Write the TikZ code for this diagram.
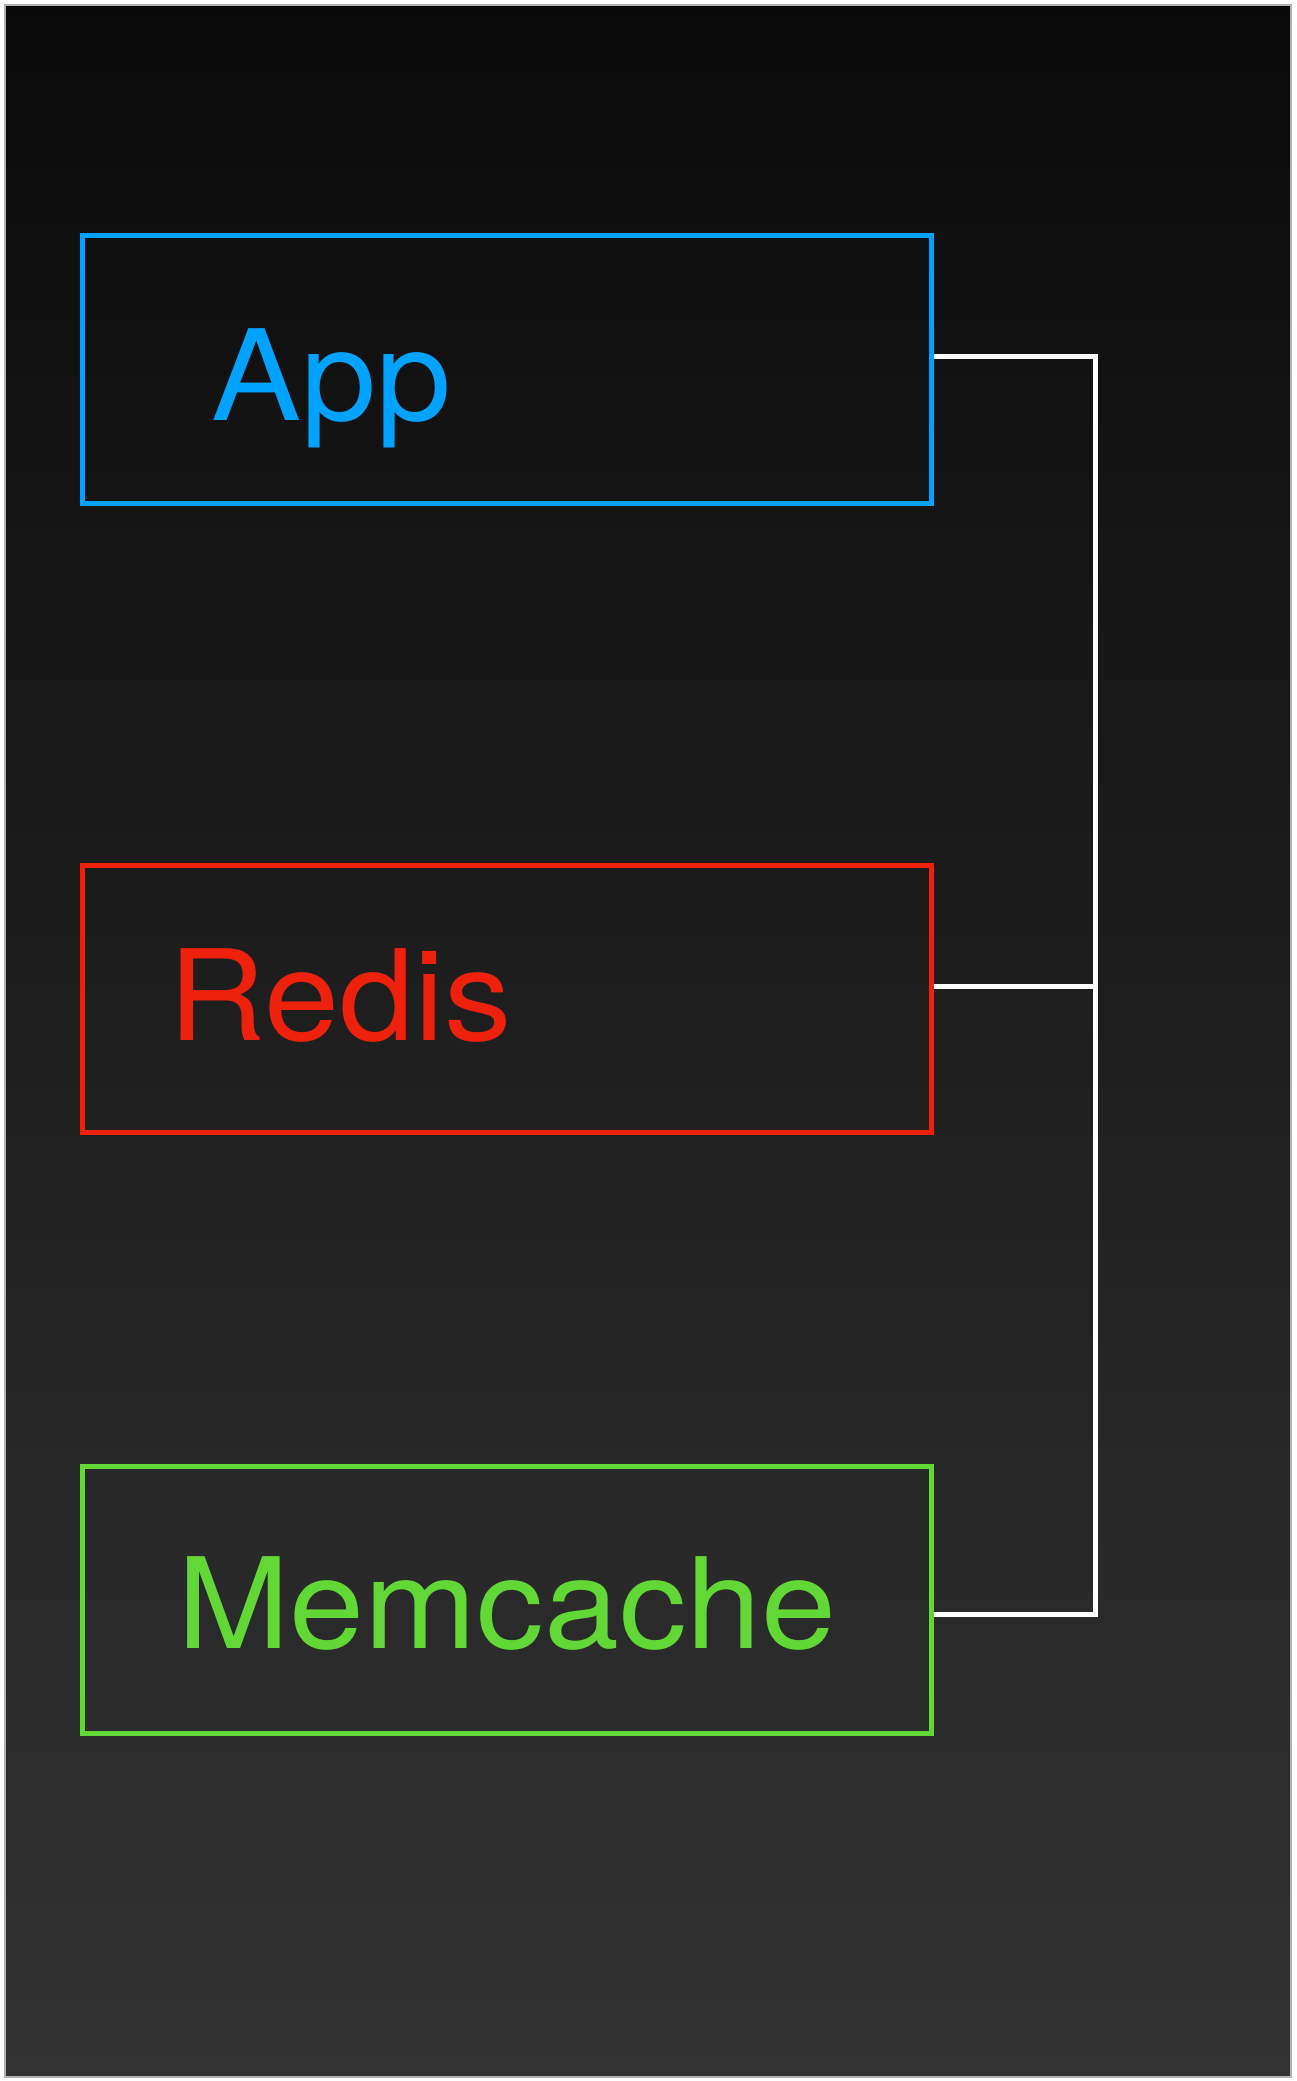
\documentclass[tikz,border=0pt]{standalone}
\usepackage{fontspec}
\setmainfont[FakeStretch=1.07]{TeX Gyre Heros}
\usepackage{tikz}

\definecolor{appblue}{HTML}{00A2FF}
\definecolor{redisred}{HTML}{EE220C}
\definecolor{memgreen}{HTML}{61D836}

\tikzset{
  svcbox/.style={draw, line width=2.5pt, minimum width=424.5pt, minimum height=133.5pt, inner sep=0pt},
  svclabel/.style={anchor=base west, inner sep=0pt, font=\fontsize{63}{75}\selectfont},
  busline/.style={draw=white, line width=2.5pt}
}

\begin{document}
\begin{tikzpicture}[x=0.5pt, y=-0.5pt]
        \useasboundingbox (0,0) rectangle (1296,2081);                   %
        \fill [white]                     (0,0) rectangle (1296,2081);   %
        \shade [top color=black!96, bottom color=black!80, draw=black!30, line width=0.6pt]
                                          (5,5) rectangle (1291,2077);   %backdrop

        \node [svcbox, draw=appblue]   (app)      at (506.5,369.5) {};   %App
        \node [svclabel, text=appblue] (apptxt)   at (211,420)   {App};  %
        \node [svcbox, draw=redisred]  (redis)    at (506.5,999)   {};   %Redis
        \node [svclabel, text=redisred] (redistxt) at (168,1040) {Redis};%
        \node [svcbox, draw=memgreen]  (memcache) at (506.5,1600)  {};   %Memcache
        \node [svclabel, text=memgreen] (memtxt)  at (177,1648) {Memcache};%

        \coordinate (appout) at (app.east |- 0,357);                     %
        \coordinate (redout) at (redis.east |- 0,986);                   %
        \coordinate (memout) at (memcache.east |- 0,1614);               %
        \coordinate (busa)   at (1095,357);                              %
        \coordinate (busb)   at (1095,986);                              %
        \coordinate (busc)   at (1095,1614);                             %

        \draw [busline] (appout) -- (busa) -- (busc) -- (memout);        %bus
        \draw [busline] (redout) -- (busb);                              %
      \end{tikzpicture}
\end{document}
